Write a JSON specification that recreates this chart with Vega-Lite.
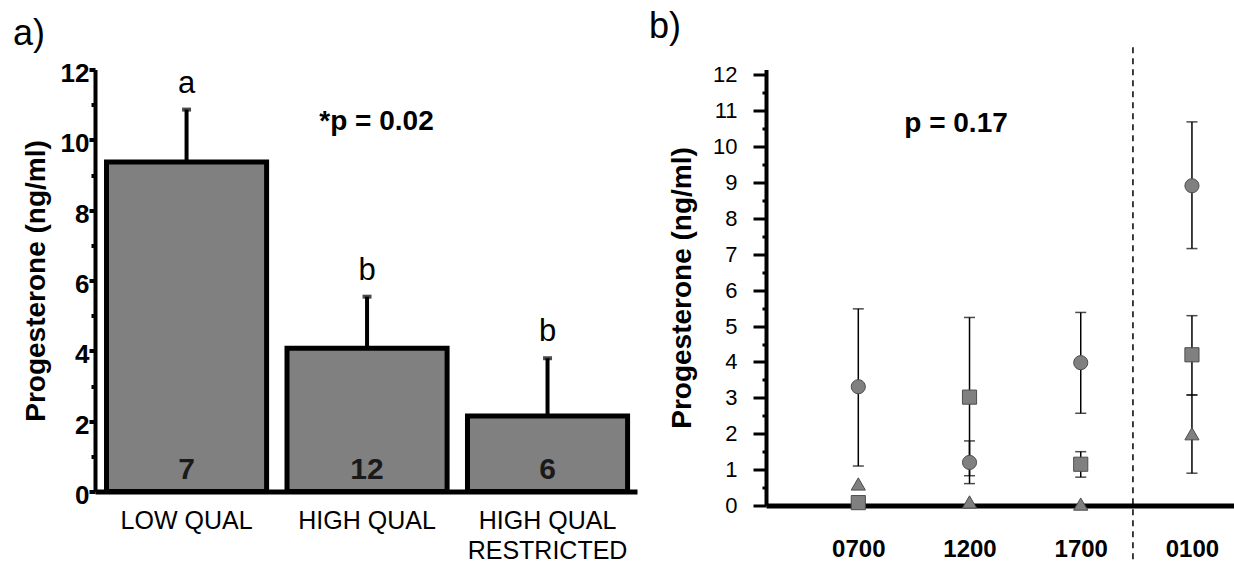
{
  "$schema": "https://vega.github.io/schema/vega-lite/v6.json",
  "background": "white",
  "padding": {"left": 13, "top": 8.5, "right": 0, "bottom": 0},
  "bounds": "flush",
  "spacing": 129,
  "config": {"view": {"stroke": null}, "font": "Liberation Sans"},
  "hconcat": [
    {
      "width": 542,
      "height": 422,
      "title": {"text": "a)", "anchor": "start", "frame": "group", "dx": -82, "offset": -20, "fontSize": 36, "fontWeight": "normal", "font": "Liberation Sans", "color": "black", "baseline": "alphabetic"},
      "data": {"values": [
        {"group": "LOW QUAL", "mean": 9.37, "hi": 10.86, "letter": "a", "n": "7"},
        {"group": "HIGH QUAL", "mean": 4.07, "hi": 5.54, "letter": "b", "n": "12"},
        {"group": "HIGH QUAL RESTRICTED", "mean": 2.15, "hi": 3.79, "letter": "b", "n": "6"}
      ]},
      "encoding": {
        "x": {
          "field": "group", "type": "nominal", "sort": null,
          "scale": {"domain": ["LOW QUAL", "HIGH QUAL", "HIGH QUAL RESTRICTED"], "paddingInner": 0.113, "paddingOuter": 0.058, "align": 0.55},
          "axis": {"title": null, "domainWidth": 5, "domainColor": "black", "ticks": false, "labelFont": "Liberation Sans", "labelFontSize": 25, "labelFontWeight": "normal", "labelColor": "black", "labelPadding": 17, "labelBaseline": "top", "labelLineHeight": 30, "labelAngle": 0, "labelLimit": 0,
            "labelExpr": "datum.label == 'HIGH QUAL RESTRICTED' ? ['HIGH QUAL', 'RESTRICTED'] : datum.label"}
        }
      },
      "resolve": {"axis": {"y": "independent"}},
      "layer": [
        {
          "mark": {"type": "rule", "strokeWidth": 4, "color": "black"},
          "encoding": {
            "y": {"field": "mean", "type": "quantitative", "title": "Progesterone (ng/ml)",
              "scale": {"domain": [0, 12], "nice": false},
              "axis": {"orient": "left", "titleFont": "Liberation Sans", "titleFontSize": 28, "titleFontWeight": "bold", "titleColor": "black", "titlePadding": 10,
                "values": [0, 2, 4, 6, 8, 10, 12],
                "labelOverlap": false,
                "labelFont": "Liberation Sans", "labelFontSize": 26, "labelFontWeight": "bold", "labelColor": "black", "labelPadding": 0, "labelOffset": 4,
                "tickSize": 6, "tickWidth": 4, "tickColor": "black", "domainWidth": 4, "domainColor": "black", "grid": false}
            },
            "y2": {"field": "hi"}
          }
        },
        {
          "mark": {"type": "bar", "fill": "#808080", "stroke": "black", "strokeWidth": 5},
          "encoding": {"y": {"field": "mean", "type": "quantitative",
            "axis": {"orient": "left", "title": null, "values": [1, 3, 5, 7, 9, 11], "labels": false, "domain": false, "grid": false, "tickSize": 4, "tickWidth": 4, "tickColor": "black"}}}
        },
        {
          "mark": {"type": "tick", "color": "black", "thickness": 4, "size": 9},
          "encoding": {"y": {"field": "hi", "type": "quantitative", "axis": null}}
        },
        {
          "mark": {"type": "text", "font": "Liberation Sans", "fontSize": 31, "dy": -17, "baseline": "alphabetic", "color": "black"},
          "encoding": {"y": {"field": "hi", "type": "quantitative", "axis": null}, "text": {"field": "letter"}}
        },
        {
          "mark": {"type": "text", "font": "Liberation Sans", "fontSize": 30, "fontWeight": "bold", "dy": -13, "baseline": "alphabetic", "color": "#1a1a1a"},
          "encoding": {"y": {"datum": 0, "type": "quantitative", "axis": null}, "text": {"field": "n"}}
        },
        {
          "data": {"values": [{"group": "HIGH QUAL", "label": "*p = 0.02", "y": 10.28}]},
          "mark": {"type": "text", "font": "Liberation Sans", "fontSize": 28, "fontWeight": "bold", "dx": 9.5, "baseline": "alphabetic", "color": "black"},
          "encoding": {"y": {"field": "y", "type": "quantitative", "axis": null}, "text": {"field": "label"}}
        }
      ]
    },
    {
      "width": 468,
      "height": 436,
      "title": {"text": "b)", "anchor": "start", "frame": "group", "dx": -117, "offset": -32, "fontSize": 36, "fontWeight": "normal", "font": "Liberation Sans", "color": "black", "baseline": "alphabetic"},
      "data": {"values": [
        {"time": "0700", "series": "circle", "mean": 3.31, "lo": 1.10, "hi": 5.48},
        {"time": "0700", "series": "square", "mean": 0.08},
        {"time": "0700", "series": "triangle", "mean": 0.6},
        {"time": "1200", "series": "circle", "mean": 1.2, "lo": 0.61, "hi": 1.8},
        {"time": "1200", "series": "square", "mean": 3.02, "lo": 0.83, "hi": 5.24},
        {"time": "1200", "series": "triangle", "mean": 0.1},
        {"time": "1700", "series": "circle", "mean": 3.98, "lo": 2.57, "hi": 5.38},
        {"time": "1700", "series": "square", "mean": 1.15, "lo": 0.79, "hi": 1.5},
        {"time": "1700", "series": "triangle", "mean": 0.04},
        {"time": "0100", "series": "circle", "mean": 8.91, "lo": 7.16, "hi": 10.69},
        {"time": "0100", "series": "square", "mean": 4.2, "lo": 3.08, "hi": 5.29},
        {"time": "0100", "series": "triangle", "mean": 2.0, "lo": 0.9, "hi": 3.08}
      ]},
      "encoding": {
        "x": {
          "field": "time", "type": "ordinal", "sort": null,
          "scale": {"type": "point", "domain": ["0700", "1200", "1700", "0100"], "padding": 0.604, "align": 0.687},
          "axis": {"title": null, "domainWidth": 5, "domainColor": "black", "ticks": false, "labelFont": "Liberation Sans", "labelFontSize": 24, "labelFontWeight": "bold", "labelColor": "black", "labelPadding": 32, "labelBaseline": "top", "labelAngle": 0}
        }
      },
      "resolve": {"axis": {"y": "independent"}},
      "layer": [
        {
          "transform": [{"filter": "isValid(datum.lo)"}],
          "mark": {"type": "rule", "strokeWidth": 1.5, "color": "black"},
          "encoding": {
            "y": {"field": "lo", "type": "quantitative", "title": "Progesterone (ng/ml)",
              "scale": {"domain": [0, 12.15], "nice": false},
              "axis": {"orient": "left", "titleFont": "Liberation Sans", "titleFontSize": 28, "titleFontWeight": "bold", "titleColor": "black", "titlePadding": 16,
                "values": [0, 1, 2, 3, 4, 5, 6, 7, 8, 9, 10, 11, 12],
                "labelOverlap": false,
                "labelFont": "Liberation Sans", "labelFontSize": 22, "labelFontWeight": "normal", "labelColor": "black", "labelPadding": 16,
                "tickSize": 13, "tickWidth": 3, "tickColor": "black", "domainWidth": 4, "domainColor": "black", "grid": false}
            },
            "y2": {"field": "hi"}
          }
        },
        {
          "data": {"values": [{"divider": "night"}]},
          "mark": {"type": "rule", "strokeDash": [6, 5], "strokeWidth": 1.5, "color": "black", "xOffset": -59},
          "encoding": {
            "x": {"datum": "0100"},
            "y": {"datum": -1.5, "type": "quantitative",
              "axis": {"orient": "left", "title": null, "values": [0.5, 1.5, 2.5, 3.5, 4.5, 5.5, 6.5, 7.5, 8.5, 9.5, 10.5, 11.5], "labels": false, "domain": false, "grid": false, "tickSize": 4, "tickWidth": 3, "tickColor": "black"}},
            "y2": {"datum": 12.9}
          }
        },
        {
          "transform": [{"filter": "isValid(datum.lo)"}],
          "mark": {"type": "tick", "color": "black", "thickness": 1.5, "size": 11},
          "encoding": {"y": {"field": "lo", "type": "quantitative", "axis": null}}
        },
        {
          "transform": [{"filter": "isValid(datum.lo)"}],
          "mark": {"type": "tick", "color": "black", "thickness": 1.5, "size": 11},
          "encoding": {"y": {"field": "hi", "type": "quantitative", "axis": null}}
        },
        {
          "mark": {"type": "point", "filled": true, "fill": "#808080", "stroke": "#4d4d4d", "strokeWidth": 1, "size": 200, "opacity": 1},
          "encoding": {
            "y": {"field": "mean", "type": "quantitative", "axis": null},
            "shape": {"field": "series", "type": "nominal", "scale": {"domain": ["circle", "square", "triangle"], "range": ["circle", "square", "triangle-up"]}, "legend": null}
          }
        },
        {
          "data": {"values": [{"time": "1200", "label": "p = 0.17", "y": 10.4}]},
          "mark": {"type": "text", "font": "Liberation Sans", "fontSize": 28, "fontWeight": "bold", "dx": -13.5, "baseline": "alphabetic", "color": "black"},
          "encoding": {"y": {"field": "y", "type": "quantitative", "axis": null}, "text": {"field": "label"}}
        }
      ]
    }
  ]
}
